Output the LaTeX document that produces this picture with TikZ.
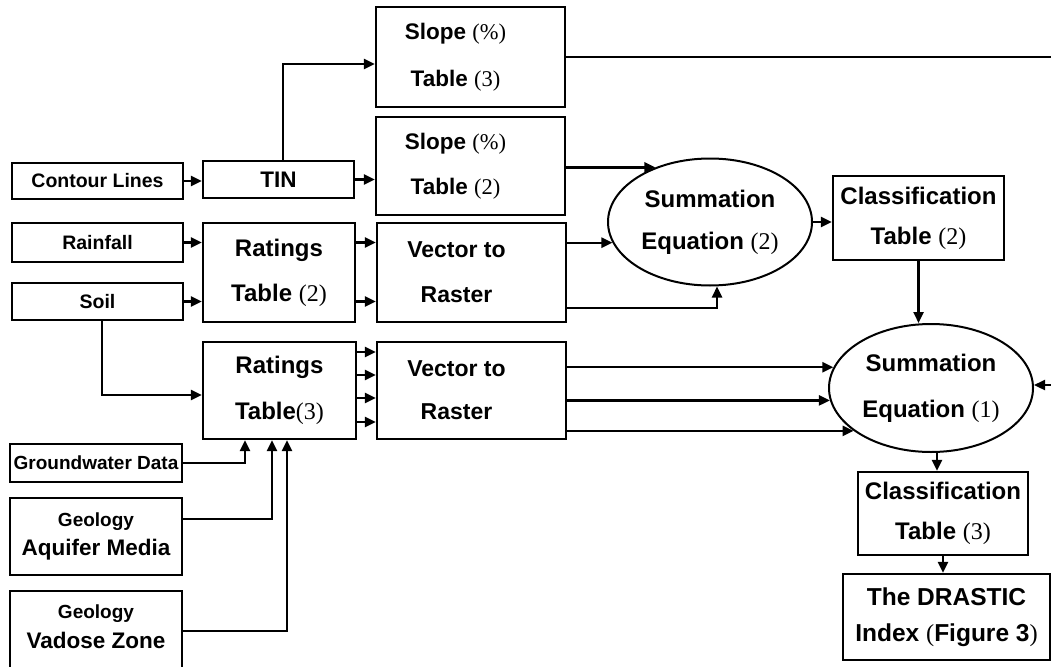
\documentclass[tikz,border=0pt]{standalone}
\usepackage{fontspec}
\setmainfont{Liberation Sans}
\newfontfamily\serifnum{Liberation Serif}
\usetikzlibrary{arrows.meta,shapes.geometric}

% numbers and symbols in parentheses are set in a serif face
\newcommand\pn[1]{{\serifnum\mdseries #1}}
\newcommand\fsz[2]{\fontsize{#1}{#2}\selectfont\bfseries}
% pushes a centred line a little to the left
\newcommand\lpad{\hspace*{30pt}}

\tikzset{
  box/.style={draw, line width=2.4pt, rectangle, inner sep=0pt, align=center},
  oval/.style={draw, line width=2pt, ellipse, inner sep=0pt, align=center},
  link/.style={line width=2.4pt, -{Triangle[length=11pt,width=10pt]}},
  plain/.style={line width=2.4pt},
}

\begin{document}
\begin{tikzpicture}[x=1pt,y=-1pt]
\useasboundingbox (0,0) rectangle (1051,666);
\clip (0,0) rectangle (1051,666);
\fill[white] (0,0) rectangle (1051,666);

% ---- input layers
\node[box, minimum width=171pt, minimum height=36pt, font=\fsz{19.5}{22}] (contour) at (97.5,181) {Contour Lines};
\node[box, minimum width=171pt, minimum height=39pt, font=\fsz{19.5}{22}] (rain) at (97.5,242.5) {Rainfall};
\node[box, minimum width=171pt, minimum height=37pt, font=\fsz{19.5}{22}] (soil) at (97.5,301.5) {Soil};
\node[box, minimum width=172pt, minimum height=38pt, font=\fsz{19}{22}] (gw) at (96,463) {Groundwater Data};
\node[box, minimum width=172pt, minimum height=77pt, font=\bfseries] (aq) at (96,536.5)
  {\fsz{19}{22}Geology\\[8pt]\fsz{22.5}{28}Aquifer Media};
\node[minimum width=172pt, minimum height=72pt, inner sep=0pt, align=center, font=\bfseries] (vad) at (96,627)
  {\fsz{19}{22}Geology\\[9pt]\fsz{22.5}{28}Vadose Zone};
\draw[plain] ([yshift=-40pt]vad.south west) |- (vad.north east) -- ([yshift=-40pt]vad.south east);

% ---- processing steps
\node[box, minimum width=151pt, minimum height=37pt, font=\fsz{22.5}{26}] (tin) at (278.5,179.5) {TIN};
\node[box, minimum width=189pt, minimum height=100pt, font=\fsz{22.5}{47}] (slope3) at (470.5,57)
  {Slope \pn{(\%)}\lpad\\Table \pn{(3)}\lpad};
\node[box, minimum width=189pt, minimum height=98pt, font=\fsz{22.5}{45}] (slope2) at (470.5,166)
  {Slope \pn{(\%)}\lpad\\Table \pn{(2)}\lpad};
\node[box, minimum width=152pt, minimum height=99pt, font=\fsz{24}{45}] (rat2) at (279,272.5)
  {Ratings\\Table \pn{(2)}};
\node[box, minimum width=189pt, minimum height=99pt, font=\fsz{23}{45}] (vec2) at (471.5,272.5)
  {Vector to\lpad\\Raster\lpad};
\node[box, minimum width=153pt, minimum height=97pt, font=\fsz{24}{46}] (rat3) at (279.5,390.5)
  {Ratings\\Table\pn{(3)}};
\node[box, minimum width=189pt, minimum height=97pt, font=\fsz{23}{43}] (vec3) at (471.5,390.5)
  {Vector to\lpad\\Raster\lpad};

% ---- combination and classification
\node[oval, minimum width=204pt, minimum height=127pt, font=\fsz{24}{42}] (sum2) at (710,222)
  {Summation\\Equation \pn{(2)}};
\node[box, minimum width=171pt, minimum height=84pt, font=\fsz{24}{40}] (cls2) at (918.5,218)
  {Classification\\Table \pn{(2)}};
\node[oval, minimum width=204pt, minimum height=128pt, font=\fsz{24}{46}] (sum1) at (931,388)
  {Summation\\Equation \pn{(1)}};
\node[box, minimum width=170pt, minimum height=83pt, font=\fsz{24}{40}] (cls3) at (943,513.5)
  {Classification\\Table \pn{(3)}};
\node[box, minimum width=207pt, minimum height=86pt, font=\fsz{24.5}{36}] (drastic) at (946.5,617)
  {The DRASTIC\\Index \pn{(}Figure 3\pn{)}};

\coordinate (exitA) at (1060,57);
\coordinate (exitB) at (1060,385);

% ---- connectors
\draw[link] (contour.east) -- (contour.east -| tin.west);
\draw[link] ([xshift=4.5pt]tin.north) |- ([yshift=-7pt]slope3.west);
\draw[link] (tin.east) -- (tin.east -| slope2.west);
\draw[plain] (slope3.east) -- (exitA);
\draw[link] (slope2.east |- sum2.135) -- (sum2.135);

\draw[link] (rain.east) -- (rain.east -| rat2.west);
\draw[link] (soil.east) -- (soil.east -| rat2.west);
\draw[link] (rat2.east |- rain.east) -- (vec2.west |- rain.east);
\draw[link] (rat2.east |- soil.east) -- (vec2.west |- soil.east);
\draw[link] (vec2.east |- sum2.192) -- (sum2.192);
\draw[link] ([yshift=-35.5pt]vec2.east) -| ([xshift=7pt]sum2.south);

\draw[link] (sum2.east) -- (sum2.east -| cls2.west);
\draw[link] (cls2.south) -- (cls2.south |- sum1.north);
\draw[link] (exitB) -- (exitB -| sum1.east);

\draw[link] ([xshift=4.5pt]soil.south) |- ([yshift=-4.5pt]rat3.west);
\foreach \dy in {38.5,15.5,-7.5,-31.5}
  \draw[link] ([yshift=\dy pt]rat3.east) -- ([yshift=\dy pt]vec3.west);
\foreach \a in {168,187,209}
  \draw[link] (vec3.east |- sum1.\a) -- (sum1.\a);

\draw[link] (gw.east) -| ([xshift=-34.5pt]rat3.south);
\draw[link] ([yshift=17.5pt]aq.east) -| ([xshift=-7.5pt]rat3.south);
\draw[link] ([yshift=-4pt]vad.east) -| ([xshift=7.5pt]rat3.south);

\draw[link] ([xshift=6pt]sum1.south) -- ([xshift=6pt]sum1.south |- cls3.north);
\draw[link] (cls3.south) -- (cls3.south |- drastic.north);
\end{tikzpicture}
\end{document}
